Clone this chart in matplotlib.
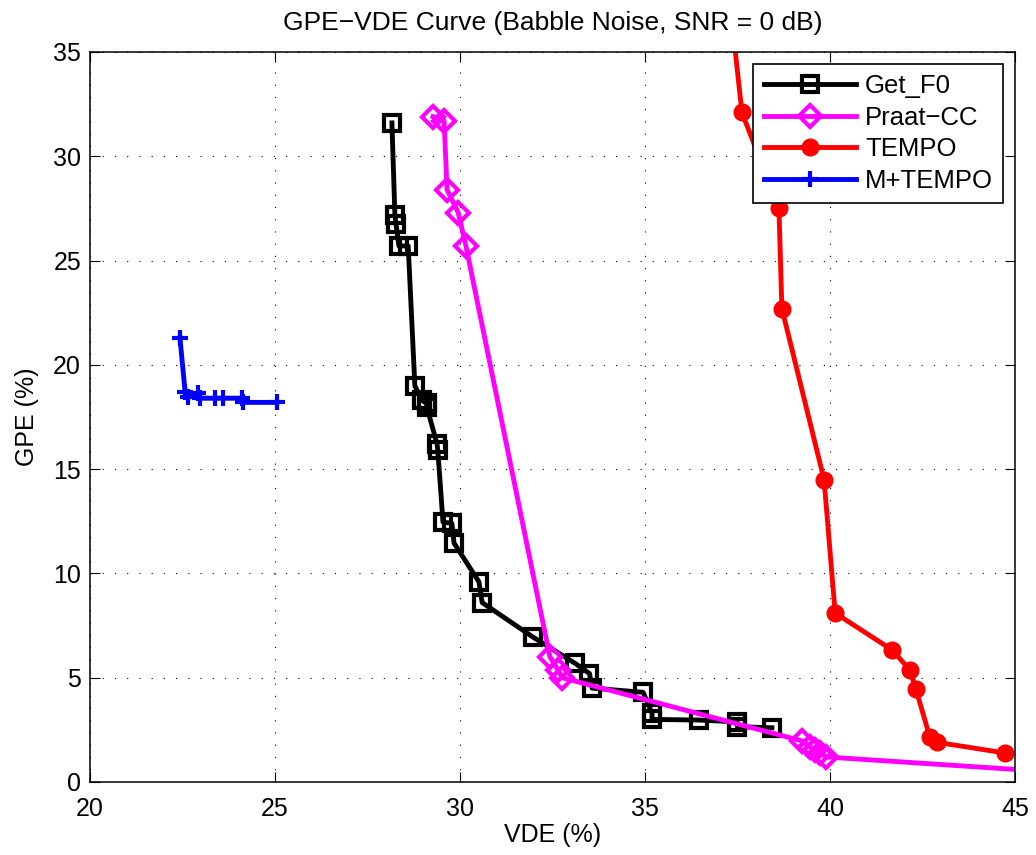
import numpy as np
import matplotlib.pyplot as plt

plt.rcParams['font.family'] = ['Liberation Sans', 'DejaVu Sans']

# Get_F0
getf0_vde = [28.16, 28.24, 28.27, 28.35, 28.6, 28.78, 28.97, 29.1, 29.1, 29.38, 29.4,
             29.54, 29.78, 29.84, 30.51, 30.6, 31.97, 33.1, 33.5, 33.57, 34.95,
             35.19, 35.19, 36.46, 37.49, 37.5, 38.43]
getf0_gpe = [31.6, 27.2, 26.75, 25.7, 25.7, 19.0, 18.3, 18.15, 18.0, 16.2, 15.9,
             12.46, 12.4, 11.45, 9.6, 8.6, 6.95, 5.7, 5.2, 4.5, 4.3,
             3.3, 3.0, 2.97, 2.88, 2.65, 2.6]

# Praat-CC
praat_vde = [29.27, 29.57, 29.65, 29.95, 30.16, 32.43, 32.65, 32.76,
             39.24, 39.46, 39.6, 39.73, 39.9, 48.0]
praat_gpe = [31.9, 31.7, 28.4, 27.3, 25.7, 6.0, 5.37, 5.0,
             1.97, 1.68, 1.53, 1.39, 1.2, 0.25]

# TEMPO
tempo_vde = [37.35, 37.62, 38.62, 38.7, 39.84, 40.14, 41.68, 42.16, 42.32,
             42.7, 42.9, 44.73]
tempo_gpe = [36.5, 32.1, 27.5, 22.7, 14.5, 8.1, 6.33, 5.37, 4.46,
             2.15, 1.9, 1.39]

# M+TEMPO
mtempo_vde = [22.43, 22.57, 22.65, 22.92, 22.97, 23.38, 23.6, 24.1, 24.14, 25.05]
mtempo_gpe = [21.3, 18.7, 18.45, 18.65, 18.4, 18.4, 18.4, 18.4, 18.2, 18.2]

fig = plt.figure(figsize=(10.36, 8.55), dpi=100)
ax = fig.add_axes([0.0869, 0.0854, 0.8928, 0.8538])

lw = 3.5
ax.plot(getf0_vde, getf0_gpe, color='k', lw=lw, marker='s', ms=11,
        mfc='none', mec='k', mew=3, label='Get_F0')
ax.plot(praat_vde, praat_gpe, color='#ff00ff', lw=lw, marker='D', ms=11,
        mfc='none', mec='#ff00ff', mew=3, label='Praat\u2212CC')
ax.plot(tempo_vde, tempo_gpe, color='#ff0000', lw=lw, marker='o', ms=12,
        mfc='#ff0000', mec='#ff0000', label='TEMPO')
ax.plot(mtempo_vde, mtempo_gpe, color='#0000ff', lw=lw, marker='+', ms=12,
        mew=3, label='M+TEMPO')

ax.set_xlim(20, 45)
ax.set_ylim(0, 35)
ax.set_xticks(np.arange(20, 46, 5))
ax.set_yticks(np.arange(0, 36, 5))
ax.grid(True, color='k', linestyle=(0, (1, 10)), linewidth=0.8)
ax.tick_params(direction='in', top=True, right=True, labelsize=18, length=7)
ax.tick_params(axis='x', pad=10.5)
ax.tick_params(axis='y', pad=6.5)
for s in ax.spines.values():
    s.set_linewidth(1.1)

ax.set_xlabel('VDE (%)', fontsize=18, labelpad=2)
ax.set_ylabel('GPE (%)', fontsize=18, labelpad=10)
ax.set_title('GPE\u2212VDE Curve (Babble Noise, SNR = 0 dB)', fontsize=19, pad=16)

leg = ax.legend(loc='upper right', fontsize=18.5, fancybox=False, framealpha=1,
                edgecolor='k', borderaxespad=0.45, handlelength=3.6,
                handletextpad=0.35, borderpad=0.4, labelspacing=0.3)
leg.get_frame().set_linewidth(1.2)

fig.savefig('out.png', dpi=100)
